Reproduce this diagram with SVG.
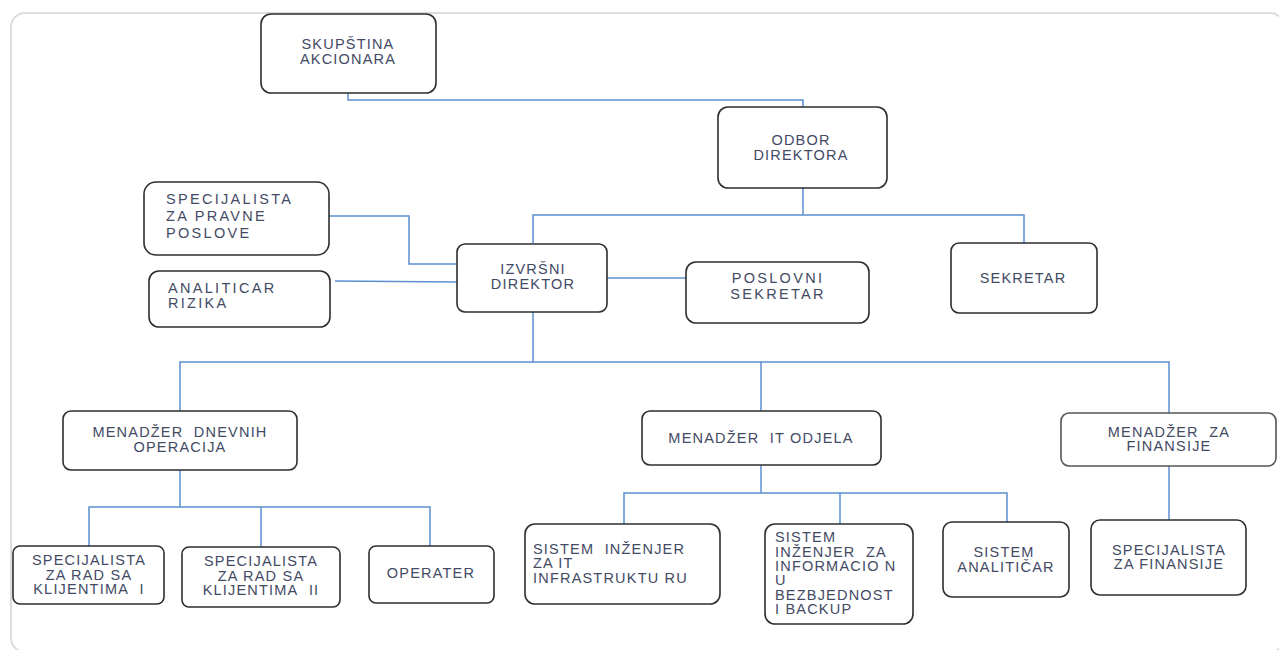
<svg xmlns="http://www.w3.org/2000/svg" width="1279" height="650" viewBox="0 0 1279 650">
<style>
.box{fill:#fff;stroke:#2e2e2e;stroke-width:1.6}
.t{font-family:"Liberation Sans",Arial,sans-serif;font-size:14.5px;fill:#434a64;letter-spacing:1.2px}
.c{text-anchor:middle}
.w{letter-spacing:2.3px}
.conn{fill:none;stroke:#5b8fd0;stroke-width:1.5}
</style>
<rect width="1279" height="650" fill="#fff"/>
<rect x="11" y="13" width="1273" height="639" rx="14" fill="none" stroke="#dcdcdc" stroke-width="2"/>
<g id="connectors" class="conn">
<path d="M348 93V100H803V107"/>
<path d="M803 188V215"/>
<path d="M533 243V215H1024V243"/>
<path d="M329 216H409V264H457"/>
<path d="M335 281L457 282"/>
<path d="M607 278H686"/>
<path d="M533 312V362"/>
<path d="M180 411V362H1169V413"/>
<path d="M761 362V411"/>
<path d="M180 470V507"/>
<path d="M89 546V507H430V546"/>
<path d="M261 507V547"/>
<path d="M761 465V493"/>
<path d="M624 524V493H1007V522"/>
<path d="M840 493V524"/>
<path d="M1169 466V520"/>
</g>
<g id="skupstina">
<rect class="box" x="261" y="14" width="175" height="79" rx="10"/>
<text class="t c" x="348" y="49">SKUPŠTINA</text>
<text class="t c" x="348" y="64">AKCIONARA</text>
</g>
<g id="odbor">
<rect class="box" x="718" y="107" width="169" height="81" rx="10"/>
<text class="t c" x="801" y="145">ODBOR</text>
<text class="t c" x="801" y="160">DIREKTORA</text>
</g>
<g id="spec-pravne">
<rect class="box" x="144" y="182" width="185" height="73" rx="12"/>
<text class="t w" x="166" y="204">SPECIJALISTA</text>
<text class="t w" x="166" y="221">ZA PRAVNE</text>
<text class="t w" x="166" y="238">POSLOVE</text>
</g>
<g id="analiticar">
<rect class="box" x="149" y="271" width="181" height="56" rx="10"/>
<text class="t w" x="168" y="293">ANALITICAR</text>
<text class="t w" x="168" y="308">RIZIKA</text>
</g>
<g id="izvrsni">
<rect class="box" x="457" y="244" width="150" height="68" rx="8"/>
<text class="t c" x="533" y="274">IZVRŠNI</text>
<text class="t c" x="533" y="289">DIREKTOR</text>
</g>
<g id="poslovni">
<rect class="box" x="686" y="262" width="183" height="61" rx="10"/>
<text class="t c w" x="778" y="283">POSLOVNI</text>
<text class="t c w" x="778" y="299">SEKRETAR</text>
</g>
<g id="sekretar">
<rect class="box" x="951" y="243" width="146" height="70" rx="8"/>
<text class="t c" x="1023" y="283">SEKRETAR</text>
</g>
<g id="men-dnevnih">
<rect class="box" x="63" y="411" width="234" height="59" rx="8"/>
<text class="t c" x="180" y="437">MENADŽER&#160; DNEVNIH</text>
<text class="t c" x="180" y="452">OPERACIJA</text>
</g>
<g id="men-it">
<rect class="box" x="642" y="411" width="239" height="54" rx="8"/>
<text class="t c" x="761" y="443">MENADŽER&#160; IT ODJELA</text>
</g>
<g id="men-fin">
<rect class="box" x="1061" y="413" width="215" height="53" rx="8" style="stroke:#555"/>
<text class="t c" x="1169" y="437">MENADŽER&#160; ZA</text>
<text class="t c" x="1169" y="451">FINANSIJE</text>
</g>
<g id="spec-klij-1">
<rect class="box" x="13" y="546" width="151" height="58" rx="7"/>
<text class="t c" x="89" y="565">SPECIJALISTA</text>
<text class="t c" x="89" y="580">ZA RAD SA</text>
<text class="t c" x="89" y="594">KLIJENTIMA&#160; I</text>
</g>
<g id="spec-klij-2">
<rect class="box" x="182" y="547" width="158" height="60" rx="7"/>
<text class="t c" x="261" y="566">SPECIJALISTA</text>
<text class="t c" x="261" y="581">ZA RAD SA</text>
<text class="t c" x="261" y="595">KLIJENTIMA&#160; II</text>
</g>
<g id="operater">
<rect class="box" x="369" y="546" width="125" height="57" rx="7"/>
<text class="t c" x="431" y="578">OPERATER</text>
</g>
<g id="sis-inz-it">
<rect class="box" x="525" y="524" width="195" height="80" rx="10"/>
<text class="t" x="533" y="554">SISTEM&#160; INŽENJER</text>
<text class="t" x="533" y="568">ZA IT</text>
<text class="t" x="533" y="583">INFRASTRUKTU RU</text>
</g>
<g id="sis-inz-bez">
<rect class="box" x="765" y="524" width="148" height="100" rx="10"/>
<text class="t" x="775" y="542">SISTEM</text>
<text class="t" x="775" y="557">INŽENJER&#160; ZA</text>
<text class="t" x="775" y="571">INFORMACIO N</text>
<text class="t" x="775" y="585">U</text>
<text class="t" x="775" y="600">BEZBJEDNOST</text>
<text class="t" x="775" y="614">I BACKUP</text>
</g>
<g id="sis-analiticar">
<rect class="box" x="943" y="522" width="126" height="75" rx="9"/>
<text class="t c" x="1004" y="557">SISTEM</text>
<text class="t c" x="1006" y="572">ANALITIČAR</text>
</g>
<g id="spec-fin">
<rect class="box" x="1091" y="520" width="155" height="75" rx="9"/>
<text class="t c" x="1169" y="555">SPECIJALISTA</text>
<text class="t c" x="1169" y="569">ZA FINANSIJE</text>
</g>
</svg>
